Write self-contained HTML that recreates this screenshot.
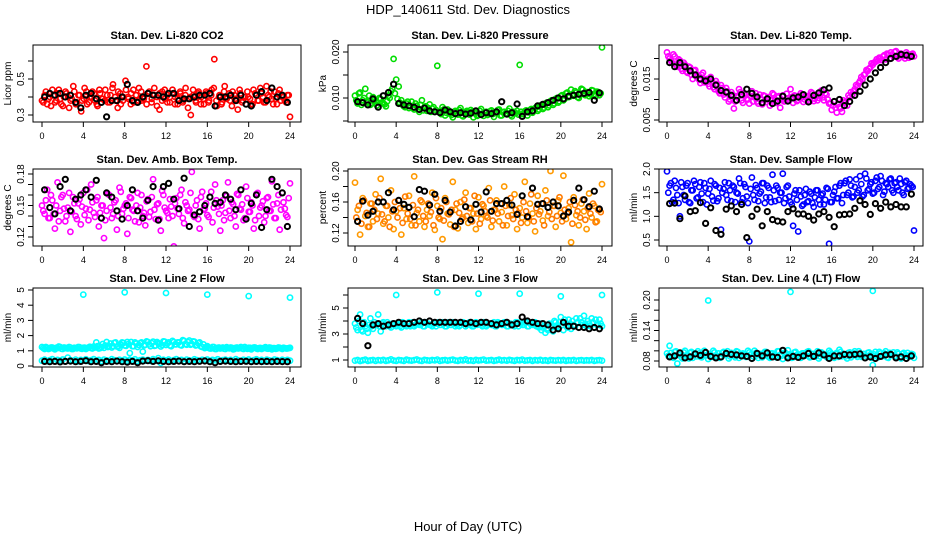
<!DOCTYPE html>
<html><head><meta charset="utf-8"><style>
html,body{margin:0;padding:0;background:#fff;}
svg{display:block;font-family:"Liberation Sans",sans-serif;}
</style></head><body>
<svg id="chart" width="936" height="540" viewBox="0 0 936 540" xmlns="http://www.w3.org/2000/svg">
<rect width="936" height="540" fill="#fff"/>
<text x="468" y="14" text-anchor="middle" font-size="13">HDP_140611  Std. Dev. Diagnostics</text>
<text x="468" y="531" text-anchor="middle" font-size="13">Hour of Day (UTC)</text>
</svg>
<script>
const xTicks=[0,4,8,12,16,20,24];
const co2Col=[0.38,0.41,0.36,0.40,0.44,0.37,0.42,0.39,0.35,0.43,0.40,0.38,0.46,0.36,0.41,0.32,0.39,0.43,0.37,0.40,0.42,0.36,0.44,0.39,0.38,0.41,0.37,0.45,0.40,0.34,0.42,0.38,0.49,0.40,0.36,0.44,0.41,0.38,0.43,0.39,0.57,0.42,0.37,0.45,0.40,0.33,0.43,0.39,0.41,0.37,0.44,0.40,0.36,0.42,0.38,0.45,0.39,0.30,0.41,0.37,0.43,0.40,0.36,0.42,0.38,0.44,0.61,0.35,0.41,0.37,0.46,0.40,0.38,0.43,0.39,0.33,0.42,0.38,0.71,0.40,0.36,0.44,0.41,0.38,0.42,0.37,0.46,0.40,0.39,0.43,0.36,0.44,0.40,0.38,0.41,0.29];
const co2Col2=[0.37,0.43,0.39,0.35,0.41,0.38,0.44,0.36,0.40,0.42,0.34,0.39,0.43,0.37,0.41,0.38,0.45,0.36,0.40,0.43,0.38,0.35,0.42,0.39,0.44,0.37,0.41,0.47,0.38,0.43,0.36,0.40,0.44,0.39,0.42,0.37,0.41,0.45,0.38,0.40,0.36,0.43,0.39,0.41,0.35,0.42,0.38,0.44,0.37,0.40,0.42,0.36,0.39,0.43,0.37,0.41,0.34,0.40,0.44,0.38,0.42,0.36,0.39,0.43,0.37,0.41,0.45,0.38,0.40,0.36,0.43,0.39,0.42,0.35,0.41,0.38,0.44,0.37,0.40,0.43,0.39,0.36,0.42,0.38,0.45,0.40,0.37,0.41,0.43,0.36,0.39,0.42,0.38,0.40,0.37,0.41];
const co2Blk=[0.40,0.42,0.41,0.42,0.40,0.41,0.37,0.34,0.41,0.42,0.39,0.37,0.29,0.38,0.38,0.40,0.47,0.38,0.37,0.40,0.42,0.41,0.41,0.40,0.42,0.42,0.38,0.39,0.39,0.40,0.41,0.41,0.42,0.35,0.40,0.40,0.41,0.38,0.41,0.36,0.35,0.41,0.43,0.38,0.45,0.40,0.41,0.37];
const presCol=[0.0105,0.0088,0.0112,0.0095,0.0120,0.0090,0.0085,0.0102,0.0093,0.0080,0.0098,0.0088,0.0082,0.0105,0.0115,0.0185,0.0140,0.0125,0.0095,0.0082,0.0088,0.0078,0.0092,0.0075,0.0083,0.0070,0.0095,0.0080,0.0072,0.0086,0.0077,0.0070,0.0170,0.0068,0.0080,0.0062,0.0075,0.0066,0.0058,0.0072,0.0064,0.0078,0.0060,0.0070,0.0066,0.0074,0.0058,0.0068,0.0063,0.0076,0.0061,0.0070,0.0066,0.0073,0.0059,0.0068,0.0075,0.0062,0.0070,0.0065,0.0077,0.0060,0.0069,0.0072,0.0172,0.0065,0.0071,0.0062,0.0074,0.0068,0.0078,0.0072,0.0082,0.0076,0.0088,0.0080,0.0093,0.0085,0.0098,0.0090,0.0104,0.0095,0.0110,0.0102,0.0118,0.0105,0.0112,0.0100,0.0120,0.0108,0.0113,0.0104,0.0117,0.0109,0.0114,0.0106,0.0210];
const presCol2=[0.0095,0.0110,0.0085,0.0100,0.0092,0.0105,0.0088,0.0096,0.0084,0.0100,0.0090,0.0086,0.0093,0.0100,0.0120,0.0110,0.0098,0.0090,0.0085,0.0080,0.0092,0.0083,0.0078,0.0088,0.0076,0.0085,0.0073,0.0082,0.0078,0.0070,0.0080,0.0074,0.0070,0.0065,0.0075,0.0068,0.0072,0.0063,0.0070,0.0066,0.0074,0.0062,0.0068,0.0072,0.0064,0.0070,0.0067,0.0061,0.0072,0.0066,0.0069,0.0063,0.0071,0.0065,0.0068,0.0074,0.0062,0.0069,0.0066,0.0072,0.0063,0.0070,0.0067,0.0064,0.0070,0.0066,0.0073,0.0069,0.0076,0.0072,0.0080,0.0075,0.0085,0.0079,0.0090,0.0084,0.0095,0.0088,0.0100,0.0093,0.0106,0.0098,0.0112,0.0103,0.0108,0.0115,0.0102,0.0110,0.0118,0.0106,0.0112,0.0108,0.0116,0.0104,0.0113,0.0110];
const presBlk=[0.0092,0.0090,0.0085,0.0098,0.0080,0.0105,0.0112,0.0130,0.0088,0.0085,0.0083,0.0080,0.0075,0.0078,0.0072,0.0070,0.0068,0.0074,0.0070,0.0066,0.0068,0.0065,0.0067,0.0072,0.0064,0.0068,0.0066,0.0070,0.0092,0.0065,0.0068,0.0087,0.0060,0.0070,0.0072,0.0083,0.0086,0.0090,0.0095,0.0100,0.0098,0.0104,0.0106,0.0108,0.0110,0.0112,0.0095,0.0111];
const tempCol=[0.0215,0.0200,0.0190,0.0205,0.0180,0.0195,0.0170,0.0185,0.0165,0.0178,0.0150,0.0172,0.0160,0.0140,0.0165,0.0148,0.0138,0.0155,0.0130,0.0145,0.0120,0.0135,0.0112,0.0128,0.0095,0.0118,0.0078,0.0108,0.0125,0.0098,0.0115,0.0102,0.0090,0.0120,0.0105,0.0095,0.0112,0.0088,0.0108,0.0100,0.0085,0.0115,0.0098,0.0105,0.0080,0.0110,0.0096,0.0103,0.0125,0.0092,0.0108,0.0099,0.0115,0.0094,0.0106,0.0100,0.0118,0.0096,0.0110,0.0104,0.0122,0.0098,0.0112,0.0090,0.0075,0.0095,0.0068,0.0082,0.0070,0.0092,0.0085,0.0105,0.0112,0.0125,0.0132,0.0145,0.0150,0.0162,0.0170,0.0178,0.0185,0.0192,0.0195,0.0200,0.0205,0.0198,0.0210,0.0215,0.0205,0.0218,0.0200,0.0212,0.0206,0.0215,0.0202,0.0210,0.0205];
const tempCol2=[0.0205,0.0195,0.0210,0.0185,0.0198,0.0175,0.0190,0.0168,0.0180,0.0160,0.0170,0.0155,0.0148,0.0160,0.0142,0.0150,0.0132,0.0145,0.0125,0.0138,0.0115,0.0128,0.0105,0.0120,0.0100,0.0112,0.0095,0.0105,0.0118,0.0092,0.0110,0.0100,0.0108,0.0095,0.0115,0.0090,0.0102,0.0110,0.0094,0.0106,0.0098,0.0112,0.0092,0.0108,0.0100,0.0095,0.0114,0.0098,0.0106,0.0110,0.0096,0.0104,0.0112,0.0100,0.0108,0.0095,0.0115,0.0102,0.0098,0.0110,0.0105,0.0115,0.0100,0.0092,0.0085,0.0080,0.0090,0.0078,0.0098,0.0095,0.0110,0.0118,0.0120,0.0135,0.0140,0.0155,0.0160,0.0172,0.0175,0.0188,0.0190,0.0198,0.0202,0.0196,0.0208,0.0212,0.0200,0.0210,0.0216,0.0204,0.0212,0.0208,0.0200,0.0210,0.0206,0.0212];
const tempBlk=[0.0190,0.0180,0.0190,0.0180,0.0170,0.0160,0.0150,0.0145,0.0150,0.0135,0.0122,0.0118,0.0110,0.0098,0.0112,0.0125,0.0115,0.0106,0.0092,0.0102,0.0090,0.0096,0.0108,0.0096,0.0104,0.0106,0.0112,0.0094,0.0110,0.0116,0.0124,0.0128,0.0095,0.0100,0.0085,0.0095,0.0110,0.0120,0.0135,0.0150,0.0165,0.0178,0.0190,0.0200,0.0205,0.0210,0.0208,0.0205];
const ambCol=[0.150,0.142,0.165,0.138,0.155,0.128,0.172,0.145,0.160,0.135,0.148,0.125,0.158,0.140,0.152,0.132,0.162,0.147,0.136,0.170,0.143,0.155,0.130,0.150,0.119,0.145,0.160,0.138,0.153,0.127,0.167,0.142,0.150,0.123,0.158,0.146,0.135,0.162,0.148,0.140,0.131,0.156,0.144,0.175,0.137,0.152,0.126,0.160,0.145,0.138,0.149,0.111,0.157,0.142,0.165,0.133,0.150,0.146,0.182,0.139,0.155,0.128,0.163,0.147,0.141,0.158,0.134,0.170,0.149,0.126,0.155,0.143,0.172,0.138,0.151,0.130,0.160,0.146,0.136,0.168,0.144,0.153,0.128,0.161,0.140,0.150,0.134,0.157,0.145,0.173,0.138,0.152,0.127,0.162,0.147,0.139,0.171];
const ambCol2=[0.145,0.155,0.138,0.160,0.142,0.150,0.135,0.158,0.147,0.140,0.162,0.144,0.152,0.137,0.156,0.149,0.141,0.165,0.146,0.153,0.139,0.158,0.143,0.150,0.136,0.161,0.148,0.142,0.155,0.140,0.163,0.147,0.152,0.138,0.157,0.145,0.150,0.134,0.160,0.143,0.154,0.139,0.158,0.146,0.151,0.137,0.164,0.148,0.143,0.156,0.140,0.152,0.147,0.160,0.138,0.153,0.145,0.162,0.141,0.150,0.137,0.158,0.146,0.152,0.139,0.163,0.148,0.155,0.142,0.150,0.136,0.159,0.145,0.153,0.140,0.161,0.147,0.151,0.138,0.157,0.144,0.150,0.136,0.162,0.148,0.154,0.140,0.158,0.145,0.151,0.138,0.160,0.146,0.153,0.141,0.157];
const ambBlk=[0.165,0.148,0.142,0.168,0.175,0.145,0.156,0.160,0.165,0.158,0.174,0.138,0.162,0.158,0.145,0.137,0.150,0.165,0.145,0.138,0.155,0.168,0.136,0.168,0.171,0.156,0.147,0.176,0.130,0.141,0.144,0.150,0.158,0.152,0.153,0.160,0.156,0.146,0.165,0.137,0.152,0.160,0.129,0.146,0.175,0.168,0.162,0.130];
const rhCol=[0.185,0.150,0.118,0.165,0.142,0.128,0.158,0.135,0.170,0.145,0.190,0.132,0.155,0.140,0.175,0.125,0.148,0.162,0.118,0.152,0.138,0.168,0.130,0.193,0.146,0.135,0.160,0.128,0.150,0.142,0.172,0.124,0.155,0.138,0.112,0.165,0.145,0.131,0.186,0.150,0.126,0.160,0.140,0.172,0.133,0.152,0.145,0.125,0.166,0.138,0.155,0.142,0.178,0.128,0.150,0.162,0.135,0.147,0.180,0.130,0.156,0.143,0.170,0.125,0.152,0.140,0.186,0.133,0.158,0.145,0.122,0.168,0.148,0.136,0.175,0.142,0.200,0.155,0.128,0.162,0.146,0.194,0.138,0.152,0.108,0.166,0.143,0.130,0.158,0.148,0.125,0.171,0.140,0.155,0.135,0.150,0.183];
const rhCol2=[0.140,0.155,0.132,0.162,0.146,0.128,0.158,0.150,0.138,0.165,0.144,0.135,0.155,0.128,0.148,0.160,0.140,0.152,0.133,0.167,0.145,0.138,0.156,0.130,0.150,0.162,0.142,0.135,0.158,0.147,0.130,0.165,0.140,0.152,0.136,0.160,0.144,0.150,0.128,0.158,0.146,0.138,0.163,0.142,0.152,0.135,0.168,0.145,0.132,0.157,0.148,0.140,0.162,0.136,0.150,0.145,0.158,0.130,0.155,0.142,0.165,0.138,0.150,0.146,0.133,0.160,0.148,0.140,0.170,0.135,0.152,0.144,0.158,0.130,0.162,0.147,0.138,0.155,0.142,0.166,0.135,0.150,0.145,0.160,0.132,0.156,0.148,0.140,0.163,0.137,0.152,0.145,0.158,0.134,0.150,0.147];
const rhBlk=[0.135,0.161,0.143,0.148,0.160,0.160,0.172,0.150,0.162,0.157,0.153,0.141,0.176,0.174,0.156,0.170,0.148,0.162,0.147,0.129,0.135,0.154,0.137,0.157,0.147,0.173,0.148,0.158,0.158,0.162,0.156,0.144,0.168,0.141,0.178,0.157,0.158,0.153,0.160,0.155,0.142,0.147,0.162,0.178,0.163,0.154,0.174,0.151];
const flowCol=[1.95,1.65,1.30,1.75,1.45,1.00,1.62,1.35,1.70,1.28,1.55,1.68,1.40,1.72,1.30,1.60,1.48,1.75,1.33,1.65,1.38,0.72,1.58,1.45,1.70,1.32,1.62,1.50,1.80,1.30,1.68,1.42,0.47,1.82,1.35,1.60,1.48,1.70,1.28,1.65,1.40,1.88,1.32,1.60,1.50,1.90,1.38,1.65,1.30,0.80,1.55,0.68,1.42,1.25,1.58,1.32,1.48,1.20,1.55,1.35,1.45,1.25,1.60,0.42,1.30,1.52,1.38,1.65,1.28,1.70,1.45,1.78,1.40,1.62,1.50,1.85,1.42,1.90,1.55,1.68,1.48,1.75,1.58,1.85,1.45,1.70,1.62,1.80,1.50,1.72,1.55,1.68,1.45,1.75,1.60,1.65,0.70];
const flowCol2=[1.50,1.70,1.35,1.60,1.28,1.72,1.45,1.65,1.30,1.55,1.75,1.38,1.62,1.48,1.70,1.25,1.58,1.42,1.68,1.32,1.60,1.50,1.72,1.35,1.55,1.65,1.30,1.48,1.70,1.38,1.62,1.28,1.58,1.45,1.66,1.32,1.52,1.70,1.40,1.60,1.30,1.55,1.65,1.35,1.50,1.28,1.62,1.42,1.25,1.48,1.35,1.55,1.22,1.45,1.30,1.52,1.28,1.40,1.55,1.25,1.48,1.35,1.58,1.30,1.45,1.62,1.38,1.70,1.45,1.75,1.50,1.65,1.42,1.78,1.55,1.68,1.45,1.80,1.58,1.72,1.50,1.82,1.62,1.75,1.52,1.68,1.78,1.55,1.70,1.62,1.80,1.50,1.72,1.58,1.68,1.62];
const flowBlk=[1.27,1.28,0.95,1.43,1.10,1.12,1.29,0.85,1.18,0.70,0.62,1.15,1.22,1.10,1.25,0.55,1.00,1.15,0.80,1.10,0.93,0.90,0.88,1.10,1.16,1.05,1.05,1.00,0.92,1.05,1.10,0.98,0.78,1.03,1.04,1.05,1.17,1.33,1.25,1.04,1.27,1.17,1.30,1.20,1.25,1.20,1.20,1.47];
const l2Hi=[1.25,1.12,1.20,1.15,1.22,1.10,1.18,1.25,1.12,1.20,1.15,1.22,1.12,1.18,1.25,1.15,1.20,1.12,1.22,1.18,1.28,1.55,1.15,1.25,1.20,1.58,1.30,1.22,1.52,1.28,1.20,1.55,1.35,1.58,0.85,1.30,1.55,1.25,1.50,0.95,1.40,1.58,1.30,1.60,1.35,1.50,1.28,1.62,1.38,1.55,1.30,1.58,1.42,1.55,1.35,1.65,1.40,1.68,1.45,1.60,1.38,1.55,1.25,1.18,1.30,1.15,1.25,1.12,1.20,1.15,1.22,1.12,1.18,1.22,1.10,1.20,1.15,1.25,1.12,1.18,1.20,1.10,1.22,1.15,1.18,1.12,1.20,1.15,1.22,1.10,1.18,1.15,1.20,1.12,1.18,1.15,1.20];
const l2Hi2=[1.18,1.25,1.12,1.22,1.15,1.20,1.28,1.14,1.22,1.17,1.25,1.12,1.20,1.16,1.24,1.13,1.21,1.18,1.26,1.15,1.22,1.30,1.18,1.45,1.35,1.25,1.48,1.30,1.55,1.28,1.40,1.52,1.32,1.45,1.58,1.30,1.48,1.38,1.55,1.35,1.62,1.42,1.50,1.32,1.58,1.45,1.38,1.60,1.48,1.35,1.65,1.42,1.55,1.38,1.70,1.45,1.58,1.40,1.62,1.35,1.50,1.28,1.42,1.25,1.20,1.15,1.25,1.12,1.22,1.18,1.14,1.24,1.16,1.20,1.12,1.22,1.18,1.15,1.25,1.13,1.20,1.17,1.22,1.12,1.19,1.16,1.24,1.14,1.20,1.18,1.13,1.22,1.16,1.20,1.15,1.18];
const l2Lo=[0.35,0.42,0.30,0.38,0.45,0.33,0.40,0.36,0.43,0.31,0.55,0.38,0.34,0.42,0.30,0.40,0.36,0.44,0.32,0.39,0.45,0.35,0.40,0.31,0.42,0.37,0.34,0.45,0.38,0.32,0.41,0.36,0.43,0.33,0.40,0.37,0.44,0.31,0.38,0.42,0.35,0.40,0.33,0.45,0.37,0.52,0.20,0.41,0.36,0.43,0.32,0.39,0.45,0.35,0.40,0.31,0.42,0.37,0.34,0.44,0.38,0.32,0.41,0.36,0.43,0.33,0.40,0.37,0.44,0.31,0.38,0.42,0.35,0.40,0.33,0.45,0.37,0.34,0.41,0.36,0.43,0.32,0.39,0.44,0.35,0.40,0.31,0.42,0.37,0.34,0.43,0.38,0.32,0.41,0.36,0.40,0.35];
const l2Blk=[0.30,0.28,0.30,0.27,0.30,0.32,0.28,0.30,0.35,0.28,0.30,0.22,0.30,0.28,0.32,0.28,0.25,0.30,0.22,0.32,0.35,0.30,0.34,0.30,0.28,0.30,0.32,0.28,0.30,0.28,0.31,0.33,0.28,0.22,0.30,0.32,0.30,0.28,0.30,0.31,0.28,0.30,0.29,0.30,0.28,0.30,0.29,0.28];
const l2OutHrs=[4,8,12,16,20,24];
const l2Out=[4.7,4.85,4.8,4.7,4.6,4.5];
const l3Hi=[3.8,3.3,4.5,3.2,3.6,3.1,4.2,3.4,3.7,4.5,3.2,3.9,3.6,3.7,3.5,3.8,3.6,3.7,3.5,3.8,3.6,3.9,3.7,3.6,3.8,3.7,3.9,3.6,3.8,3.7,3.6,3.9,3.8,3.7,3.9,3.6,3.8,3.7,3.9,3.6,3.8,3.7,3.9,3.6,3.8,3.7,3.6,3.9,3.8,3.7,3.9,3.6,3.8,3.7,3.9,3.6,3.8,3.7,3.9,3.6,3.8,3.7,3.6,3.9,3.8,3.7,3.9,3.6,3.8,3.7,3.9,3.6,3.8,3.5,3.1,3.3,3.6,3.2,3.9,3.5,4.3,3.3,3.8,4.1,3.4,3.7,4.2,3.5,3.9,4.4,3.6,3.8,4.2,3.5,3.7,4.1,3.6];
const l3Hi2=[3.5,4.0,3.3,3.9,3.4,3.7,3.6,3.9,3.7,3.6,3.8,3.7,3.9,3.6,3.8,3.7,3.8,3.6,3.9,3.7,3.8,3.6,3.9,3.7,3.8,3.7,3.6,3.9,3.8,3.7,3.8,3.6,3.9,3.7,3.8,3.6,3.9,3.7,3.8,3.7,3.6,3.9,3.8,3.7,3.9,3.6,3.8,3.7,3.8,3.6,3.9,3.7,3.8,3.7,3.6,3.9,3.8,3.7,3.9,3.6,3.8,3.7,3.9,3.6,3.8,3.7,3.9,3.6,3.8,3.7,3.6,3.5,3.3,3.6,3.4,3.8,3.5,4.0,3.6,3.9,3.7,4.1,3.5,3.8,4.0,3.6,3.9,4.2,3.7,3.8,4.0,3.6,3.9,4.1,3.7,3.8];
const l3Lo=[0.95,1.00,0.92,0.98,1.02,0.94,0.97,1.00,0.93,0.99,0.96,1.01,0.94,0.98,1.05,0.96,0.93,1.00,0.97,0.94,1.02,0.98,0.95,0.99,1.04,0.96,0.93,1.01,0.98,0.95,1.00,0.97,1.03,0.94,0.98,1.00,0.95,0.99,1.02,0.96,0.94,1.00,0.97,1.05,0.95,0.98,0.93,1.01,0.96,0.99,1.03,0.95,0.97,1.00,0.94,0.98,1.02,0.96,0.99,0.95,1.01,0.97,0.94,1.00,0.98,1.03,0.95,0.97,1.00,0.94,0.99,0.96,1.01,0.95,0.98,0.93,1.00,0.97,0.95,0.99,0.96,1.00,0.94,0.98,0.96,1.00,0.93,0.97,0.99,0.95,0.98,0.96,1.00,0.94,0.97,0.99,0.95];
const l3Blk=[4.2,3.8,2.1,3.7,3.8,3.6,3.7,3.8,3.9,3.8,3.8,3.9,4.0,3.9,4.0,3.9,3.9,3.9,3.9,3.9,3.9,3.8,3.9,3.8,3.9,3.9,3.8,3.7,3.8,3.9,3.7,3.8,4.3,4.0,3.9,3.8,3.8,3.7,3.3,3.4,3.9,3.6,3.6,3.5,3.5,3.4,3.5,3.4];
const l3OutHrs=[4,8,12,16,20,24];
const l3Out=[6.0,6.2,6.1,6.1,5.9,6.0];
const l4Col=[0.095,0.110,0.088,0.098,0.075,0.092,0.085,0.100,0.090,0.096,0.086,0.094,0.099,0.088,0.093,0.097,0.084,0.091,0.100,0.089,0.095,0.087,0.098,0.092,0.085,0.096,0.090,0.099,0.086,0.094,0.092,0.088,0.097,0.085,0.100,0.091,0.094,0.087,0.098,0.090,0.086,0.095,0.089,0.099,0.092,0.084,0.096,0.101,0.090,0.087,0.098,0.093,0.086,0.095,0.091,0.099,0.088,0.094,0.090,0.085,0.097,0.092,0.088,0.100,0.094,0.086,0.096,0.102,0.089,0.093,0.085,0.097,0.091,0.099,0.088,0.094,0.090,0.086,0.096,0.092,0.072,0.098,0.087,0.095,0.090,0.099,0.086,0.093,0.097,0.089,0.094,0.085,0.096,0.091,0.088,0.094,0.086];
const l4Col2=[0.090,0.096,0.086,0.099,0.092,0.088,0.097,0.091,0.085,0.098,0.093,0.089,0.095,0.087,0.100,0.091,0.094,0.088,0.097,0.090,0.086,0.096,0.092,0.099,0.089,0.094,0.087,0.098,0.091,0.095,0.088,0.100,0.093,0.089,0.096,0.086,0.094,0.091,0.098,0.088,0.095,0.092,0.087,0.099,0.090,0.096,0.089,0.093,0.086,0.097,0.092,0.088,0.095,0.090,0.098,0.087,0.094,0.091,0.099,0.089,0.095,0.092,0.086,0.097,0.090,0.094,0.088,0.098,0.093,0.089,0.096,0.087,0.095,0.091,0.099,0.088,0.094,0.090,0.097,0.086,0.093,0.091,0.098,0.089,0.095,0.087,0.096,0.092,0.090,0.097,0.088,0.094,0.091,0.096,0.089,0.093];
const l4Blk=[0.088,0.090,0.096,0.086,0.088,0.094,0.091,0.097,0.089,0.086,0.088,0.095,0.093,0.092,0.090,0.089,0.085,0.095,0.090,0.096,0.088,0.087,0.101,0.086,0.089,0.087,0.090,0.095,0.089,0.096,0.092,0.085,0.090,0.090,0.093,0.092,0.093,0.094,0.086,0.088,0.085,0.089,0.092,0.093,0.086,0.088,0.085,0.090];
const l4OutHrs=[4,12,20];
const l4Out=[0.199,0.216,0.218];

const NS='http://www.w3.org/2000/svg';
const svg=document.getElementById('chart');
const boxL=[33,348,659],boxR=[301,612,923],x0px=[42,355,667],x24px=[290,602,914];
const rowT=[45,169,288],rowB=[122,246,367];
function mk(tag,attrs,parent){const e=document.createElementNS(NS,tag);for(const k in attrs)e.setAttribute(k,attrs[k]);(parent||svg).appendChild(e);return e;}
const panels=[
 {c:0,r:0,key:'co2',title:'Stan. Dev. Li-820 CO2',ylab:'Licor ppm',ym:[0.3,115,0.5,79],ticks:[0.3,0.4,0.5,0.6],labs:[0.3,0.5],dec:1,
  s:[{v:co2Col,col:'#ff0000'},{v:co2Col2,col:'#ff0000',mid:1},{v:co2Blk,col:'#000',blk:1}]},
 {c:1,r:0,key:'pressure',title:'Stan. Dev. Li-820 Pressure',ylab:'kPa',ym:[0.010,98,0.020,52],ticks:[0.005,0.010,0.015,0.020],labs:[0.010,0.020],dec:3,
  s:[{v:presCol,col:'#00dd00'},{v:presCol2,col:'#00dd00',mid:1},{v:presBlk,col:'#000',blk:1}]},
 {c:2,r:0,key:'temp',title:'Stan. Dev. Li-820 Temp.',ylab:'degrees C',ym:[0.005,120,0.015,79],ticks:[0.005,0.010,0.015,0.020],labs:[0.005,0.015],dec:3,
  s:[{v:tempCol,col:'#ff00ff'},{v:tempCol2,col:'#ff00ff',mid:1},{v:tempBlk,col:'#000',blk:1}]},
 {c:0,r:1,key:'amb-temp',title:'Stan. Dev. Amb. Box Temp.',ylab:'degrees C',ym:[0.12,237,0.18,174],ticks:[0.12,0.13,0.14,0.15,0.16,0.17,0.18],labs:[0.12,0.15,0.18],dec:2,
  s:[{v:ambCol,col:'#ff00ff'},{v:ambCol2,col:'#ff00ff',mid:1},{v:ambBlk,col:'#000',blk:1}]},
 {c:1,r:1,key:'rh',title:'Stan. Dev. Gas Stream RH',ylab:'percent',ym:[0.12,233,0.20,171],ticks:[0.12,0.14,0.16,0.18,0.20],labs:[0.12,0.16,0.20],dec:2,
  s:[{v:rhCol,col:'#ff9900'},{v:rhCol2,col:'#ff7a00',mid:1},{v:rhBlk,col:'#000',blk:1}]},
 {c:2,r:1,key:'sample-flow',title:'Stan. Dev. Sample Flow',ylab:'ml/min',ym:[0.5,240,2.0,169],ticks:[0.5,1.0,1.5,2.0],labs:[0.5,1.0,1.5,2.0],dec:1,
  s:[{v:flowCol,col:'#0000ff'},{v:flowCol2,col:'#0000ff',mid:1},{v:flowBlk,col:'#000',blk:1}]},
 {c:0,r:2,key:'line2',title:'Stan. Dev. Line 2 Flow',ylab:'ml/min',ym:[0,366,5,290],ticks:[0,1,2,3,4,5],labs:[0,1,2,3,4,5],dec:0,
  s:[{v:l2Hi,col:'#00ffff'},{v:l2Hi2,col:'#00ffff',mid:1},{v:l2Lo,col:'#00ffff'},{v:l2Out,h:l2OutHrs,col:'#00ffff'},{v:l2Blk,col:'#000',blk:1}]},
 {c:1,r:2,key:'line3',title:'Stan. Dev. Line 3 Flow',ylab:'ml/min',ym:[1,360,5,308],ticks:[1,2,3,4,5,6],labs:[1,3,5],dec:0,
  s:[{v:l3Hi,col:'#00ffff'},{v:l3Hi2,col:'#00ffff',mid:1},{v:l3Lo,col:'#00ffff'},{v:l3Out,h:l3OutHrs,col:'#00ffff'},{v:l3Blk,col:'#000',blk:1}]},
 {c:2,r:2,key:'line4',title:'Stan. Dev. Line 4 (LT) Flow',ylab:'ml/min',ym:[0.08,361,0.20,300],ticks:[0.08,0.10,0.12,0.14,0.16,0.18,0.20],labs:[0.08,0.14,0.20],dec:2,
  s:[{v:l4Col,col:'#00ffff'},{v:l4Col2,col:'#00ffff',mid:1},{v:l4Out,h:l4OutHrs,col:'#00ffff'},{v:l4Blk,col:'#000',blk:1}]}
];
panels.forEach(p=>{
 const L=boxL[p.c],R=boxR[p.c],T=rowT[p.r],B=rowB[p.r];
 const xs=h=>x0px[p.c]+(x24px[p.c]-x0px[p.c])*h/24;
 const ys=v=>p.ym[1]+(v-p.ym[0])*(p.ym[3]-p.ym[1])/(p.ym[2]-p.ym[0]);
 const g=mk('g',{});
 
 
 const t=mk('text',{x:(L+R)/2,y:T-6,'text-anchor':'middle','font-size':'11','font-weight':'bold'},g);
 t.textContent=p.title;
 
 
 const cp=mk('clipPath',{id:'clip-'+p.key},g);mk('rect',{x:L,y:T,width:R-L,height:B-T},cp);
 const pts=mk('g',{'clip-path':'url(#clip-'+p.key+')',fill:'none'},g);
 p.s.forEach(s=>{
  s.v.forEach((v,i)=>{
   const h=s.h?s.h[i]:((s.blk||s.mid)?(i+0.5)*24/s.v.length:i*24/(s.v.length-1));
   const c=mk('circle',{cx:xs(h).toFixed(1),cy:ys(v).toFixed(1),r:2.6,stroke:s.col,'stroke-width':s.blk?2:1.6},pts);
   
   
  });
 });
 const box=mk('rect',{x:L,y:T,width:R-L,height:B-T,fill:'none',stroke:'#000','stroke-width':1},g);
 
 
 mk('line',{x1:xs(0),x2:xs(24),y1:B,y2:B,stroke:'#000'},g);
 xTicks.forEach(h=>{
  mk('line',{x1:xs(h),x2:xs(h),y1:B,y2:B+5,stroke:'#000'},g);
  const tl=mk('text',{x:xs(h),y:B+17,'text-anchor':'middle','font-size':'9'},g);
  tl.textContent=h;
  
  
 });
 const ya=p.ticks[0],yb=p.ticks[p.ticks.length-1];
 mk('line',{x1:L,x2:L,y1:ys(ya),y2:ys(yb),stroke:'#000'},g);
 p.ticks.forEach(v=>mk('line',{x1:L-5,x2:L,y1:ys(v),y2:ys(v),stroke:'#000'},g));
 p.labs.forEach(v=>{
  const yl=mk('text',{x:0,y:0,'text-anchor':'middle','font-size':'10',transform:'translate('+(L-9)+','+ys(v)+') rotate(-90)'},g);
  yl.textContent=v.toFixed(p.dec);
  
  
 });
 const yt=mk('text',{x:0,y:0,'text-anchor':'middle','font-size':'10',transform:'translate('+(L-22)+','+((T+B)/2)+') rotate(-90)'},g);
 yt.textContent=p.ylab;
 
 
});
</script>
</body></html>
